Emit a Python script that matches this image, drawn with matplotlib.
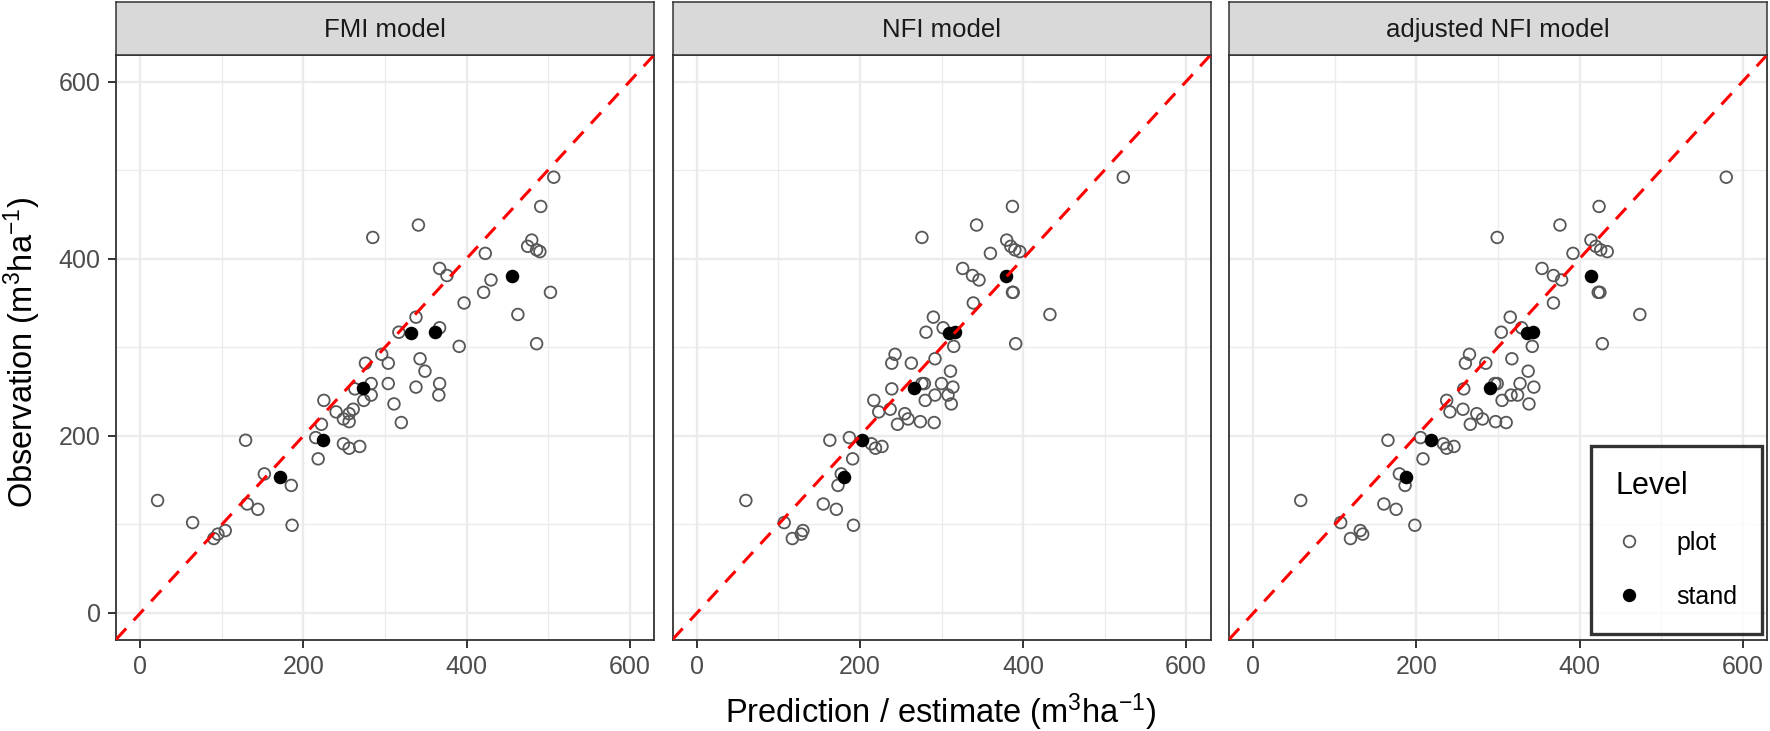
import numpy as np
import matplotlib
matplotlib.use('Agg')
import matplotlib.pyplot as plt
from matplotlib.lines import Line2D

plt.rcParams['font.family'] = ['Liberation Sans', 'DejaVu Sans']
plt.rcParams['mathtext.fontset'] = 'custom'
plt.rcParams['mathtext.rm'] = 'Liberation Sans'

# observed volume of the sample plots (same in every panel)
obs_plot = [492, 459, 438, 424, 421, 414, 410, 408, 406, 389, 381, 376, 362, 362, 350,
            337, 334, 317, 322, 304, 301, 292, 282, 282, 287, 273, 259, 253, 259, 255,
            259, 246, 246, 240, 240, 236, 230, 225, 227, 219, 216, 215, 213, 198, 191,
            186, 188, 195, 174, 157, 144, 127, 123, 117, 99, 102, 93, 89, 84]

fmi_plot = [507, 491, 341, 285, 480, 475, 486, 490, 423, 367, 376, 430, 421, 503, 397,
            463, 338, 317, 367, 486, 391, 296, 304, 276, 343, 349, 283, 263, 304, 338,
            367, 366, 283, 274, 225, 311, 261, 256, 240, 249, 256, 320, 222, 215, 249,
            256, 269, 129, 218, 152, 185, 21, 131, 144, 186, 64, 104, 95, 90]

nfi_plot = [523, 387, 343, 276, 380, 385, 390, 396, 360, 326, 338, 346, 387, 388, 339,
            433, 290, 281, 302, 391, 315, 243, 263, 239, 292, 311, 276, 239, 300, 314,
            279, 308, 292, 280, 217, 312, 237, 255, 223, 259, 274, 291, 246, 187, 214,
            219, 227, 163, 191, 177, 173, 60, 155, 171, 192, 107, 130, 128, 117]

adj_plot = [580, 424, 376, 299, 414, 420, 426, 434, 392, 354, 368, 378, 423, 425, 368,
            474, 315, 304, 329, 428, 342, 265, 285, 260, 317, 337, 299, 258, 327, 344,
            296, 324, 316, 305, 237, 338, 257, 274, 241, 281, 297, 310, 266, 205, 233,
            237, 246, 165, 208, 179, 186, 58, 160, 175, 198, 107, 131, 134, 119]

# stand level
obs_stand = [380, 316, 317, 254, 195, 154]
fmi_stand = [456, 332, 361, 273, 224, 171]
nfi_stand = [379, 309, 316, 266, 202, 181]
adj_stand = [414, 335, 343, 290, 218, 187]

panels = ['FMI model', 'NFI model', 'adjusted NFI model']
pred_plot = [fmi_plot, nfi_plot, adj_plot]
pred_stand = [fmi_stand, nfi_stand, adj_stand]

W, H = 1770, 731
fig = plt.figure(figsize=(W / 100, H / 100), dpi=100)


def box(x0, y0, x1, y1):
    # pixel box (y from top) -> figure fraction
    return [x0 / W, 1 - y1 / H, (x1 - x0) / W, (y1 - y0) / H]


lefts = [116, 672.5, 1229]
pw = 538
border = '#333333'

for i in range(3):
    l = lefts[i]
    ax = fig.add_axes(box(l, 55, l + pw, 639.5))
    ax.set_xlim(-30, 630)
    ax.set_ylim(-30, 630)
    ax.set_xticks([0, 200, 400, 600])
    ax.set_yticks([0, 200, 400, 600])
    ax.set_xticks([100, 300, 500], minor=True)
    ax.set_yticks([100, 300, 500], minor=True)
    ax.grid(which='major', color='#EBEBEB', lw=1.7)
    ax.grid(which='minor', color='#EBEBEB', lw=0.9)
    ax.set_axisbelow(True)
    for s in ax.spines.values():
        s.set_color(border)
        s.set_linewidth(1.3)
    ax.tick_params(which='minor', length=0)
    ax.tick_params(which='major', length=5.5, width=1.4, color=border,
                   labelsize=18, labelcolor='#4D4D4D')
    ax.tick_params(axis='x', pad=6)
    ax.tick_params(axis='y', pad=5.5)
    if i > 0:
        ax.tick_params(left=False, labelleft=False)

    ax.scatter(pred_plot[i], obs_plot, s=70, facecolors='none',
               edgecolors='#575757', linewidths=1.3, zorder=3)
    ax.scatter(pred_stand[i], obs_stand, s=95, c='black', linewidths=0, zorder=4)
    ax.axline((0, 0), slope=1, color='red', lw=2.2, dashes=(4.9, 3.6), zorder=5)

    st = fig.add_axes(box(l, 1.5, l + pw, 54.5))
    st.set_facecolor('#D9D9D9')
    st.set_xticks([])
    st.set_yticks([])
    for s in st.spines.values():
        s.set_color(border)
        s.set_linewidth(1.1)
    st.text(0.5, 0.47, panels[i], ha='center', va='center', fontsize=18.5,
            color='#1A1A1A', transform=st.transAxes)

fig.text(941 / W, 1 - 712 / H,
         r'Prediction / estimate (m$\mathregular{^3}$ha$\mathregular{^{-1}}$)',
         ha='center', va='center', fontsize=23.5)
fig.text(22 / W, 1 - 352 / H,
         r'Observation (m$\mathregular{^3}$ha$\mathregular{^{-1}}$)',
         ha='center', va='center', rotation=90, fontsize=23.5)

handles = [
    Line2D([], [], ls='none', marker='o', ms=8.4, mfc='none', mec='#575757', mew=1.3),
    Line2D([], [], ls='none', marker='o', ms=9.6, mfc='black', mec='black', mew=0),
]
leg = fig.legend(handles, ['plot', 'stand'], title='Level', loc='lower right',
                 bbox_to_anchor=(1762 / W, 1 - 634 / H), frameon=True, fancybox=False,
                 fontsize=18, title_fontsize=22, alignment='left', borderpad=1.0,
                 labelspacing=1.2, handlelength=1.0, handletextpad=1.4, borderaxespad=0)
leg.get_frame().set_edgecolor('black')
leg.get_frame().set_linewidth(2.4)

fig.savefig('out.png', dpi=100)
